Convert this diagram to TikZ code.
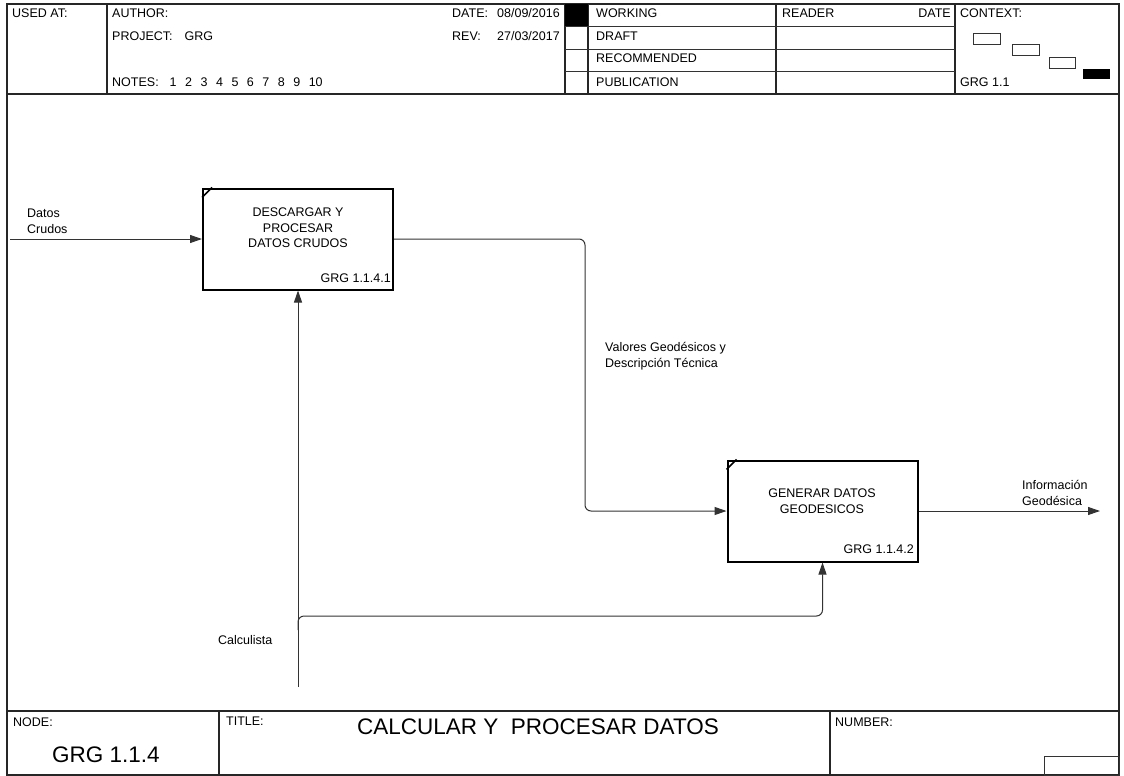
\documentclass[tikz,border=0pt]{standalone}
\usepackage{fontspec}
\setmainfont{Liberation Sans}
\usetikzlibrary{arrows.meta,calc}
\begin{document}
\begin{tikzpicture}[x=1pt,y=-1pt,
  frame/.style={draw=black!85,line width=1.1pt},
  thin/.style={draw=black!80,line width=0.9pt},
  txt/.style={inner sep=0pt,font=\fontsize{12.5}{16}\selectfont},
  big/.style={inner sep=0pt,font=\fontsize{22.5}{26}\selectfont},
  act/.style={draw=black,line width=2pt,minimum width=190pt,minimum height=101pt,inner sep=0pt},
  conn/.style={draw=black!80,line width=1pt,rounded corners=6pt},
  arr/.style={-{Triangle[length=12pt,width=8pt]}},
]
\useasboundingbox (0,0) rectangle (1124,776);
% ---------- frame ----------
\draw[frame] (7,4) rectangle (1119,775);
\draw[frame] (7,94) -- (1119,94);
\draw[frame] (7,711) -- (1119,711);
\foreach \x in {107,565,588,776,955} \draw[frame] (\x,4) -- (\x,94);
\foreach \y in {26,49,71} \draw[thin] (565,\y) -- (955,\y);
\fill[black] (565,4) rectangle (588,26);
% context mini boxes
\draw[thin] (973,33) rectangle (1000,44);
\draw[thin] (1012,44) rectangle (1039,55);
\draw[thin] (1049,57) rectangle (1075,68);
\fill[black] (1083,69) rectangle (1110,79);
% footer
\draw[frame] (219,711) -- (219,775);
\draw[frame] (830,711) -- (830,775);
\draw[thin] (1044,756) rectangle (1119,775);
% ---------- header texts ----------
\node[txt,anchor=base west] (usedat) at (12,18) {USED AT:};
\node[txt,anchor=base west] (author) at (112,18) {AUTHOR:};
\node[txt,anchor=base west] (project) at (112,41) {PROJECT:\hspace{12pt}GRG};
\node[txt,anchor=base west] (notes) at (112,86) {NOTES:\hspace{11pt}1\hspace{8.5pt}2\hspace{8.5pt}3\hspace{8.5pt}4\hspace{8.5pt}5\hspace{8.5pt}6\hspace{8.5pt}7\hspace{8.5pt}8\hspace{8.5pt}9\hspace{8.5pt}10};
\node[txt,anchor=base west] (datel) at (452,18) {DATE:};
\node[txt,anchor=base west] (datev) at (497,18) {08/09/2016};
\node[txt,anchor=base west] (revl) at (452,41) {REV:};
\node[txt,anchor=base west] (revv) at (497,41) {27/03/2017};
\node[txt,anchor=base west] (working) at (596,18) {WORKING};
\node[txt,anchor=base west] (draft) at (596,41) {DRAFT};
\node[txt,anchor=base west] (recom) at (596,63) {RECOMMENDED};
\node[txt,anchor=base west] (publ) at (596,86) {PUBLICATION};
\node[txt,anchor=base west] (reader) at (782,18) {READER};
\node[txt,anchor=base east] (rdate) at (951,18) {DATE};
\node[txt,anchor=base west] (context) at (960,18) {CONTEXT:};
\node[txt,anchor=base west] (ctxid) at (960,86) {GRG 1.1};
% ---------- footer texts ----------
\node[txt,anchor=base west] (nodel) at (13,726) {NODE:};
\node[big] (nodeid) at (106,755) {GRG 1.1.4};
\node[txt,anchor=base west] (titlel) at (226,725) {TITLE:};
\node[big,anchor=west] (title) at (357,727) {CALCULAR Y\ \ PROCESAR DATOS};
\node[txt,anchor=base west] (numberl) at (835,726) {NUMBER:};
% ---------- activities ----------
\node[act] (b1) at (298,239) {};
\node[txt,align=center,font=\fontsize{12.5}{15.5}\selectfont] (b1t) at (298,228) {DESCARGAR Y\\PROCESAR\\DATOS CRUDOS};
\node[txt,anchor=base east] (b1id) at (391,282) {GRG 1.1.4.1};
\draw[line width=1.5pt] ($(b1.north west)+(0,10)$) -- ($(b1.north west)+(10,0)$);
\node[act] (b2) at (822.5,511) {};
\node[txt,align=center,font=\fontsize{12.5}{16}\selectfont] (b2t) at (822,501) {GENERAR DATOS\\GEODESICOS};
\node[txt,anchor=base east] (b2id) at (914,553) {GRG 1.1.4.2};
\draw[line width=1.5pt] ($(b2.north west)+(0,10)$) -- ($(b2.north west)+(10,0)$);
% ---------- arrows ----------
\coordinate (in) at (10,239);
\draw[conn,arr] (in) -- (b1.west);
\node[txt,align=left,anchor=west] (l1) at (27,221) {Datos\\Crudos};
\coordinate (bend1) at (585,239);
\coordinate (bend2) at (585,511);
\draw[conn,arr] (b1.east) -- (bend1) -- (bend2) -- (b2.west);
\node[txt,align=left,anchor=west] (l2) at (605,356) {Valores Geodésicos y\\Descripción Técnica};
\coordinate (out) at (1100,511);
\draw[conn,arr] (b2.east) -- (out);
\node[txt,align=left,anchor=west] (l3) at (1022,493) {Información\\Geodésica};
\coordinate (mech) at (298,687);
\draw[conn,arr] (mech) -- (b1.south);
\coordinate (j0) at (298,630);
\coordinate (j1) at (298,616);
\coordinate (j2) at (822.5,616);
\draw[conn,arr] (j0) -- (j1) -- (j2) -- (b2.south);
\node[txt,anchor=base west] (l4) at (218,644) {Calculista};
\end{tikzpicture}
\end{document}
